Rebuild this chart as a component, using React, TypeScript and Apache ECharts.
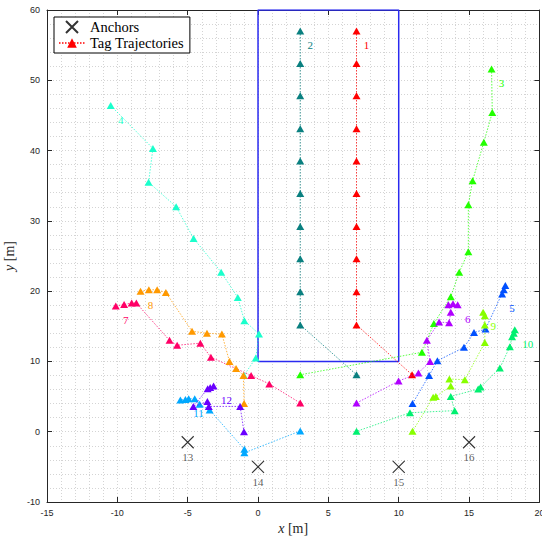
import { useEffect, useRef } from "react";
import * as echarts from "echarts";

// Tag trajectories: [x, y] in metres, first point carries the tag number
const tag1 = [[7, 57.0], [7, 52.4], [7, 47.8], [7, 43.1], [7, 38.5], [7, 33.9], [7, 29.2], [7, 24.6], [7, 19.9], [7, 15.2], [10.95, 8.1]];
const tag2 = [[3, 57.0], [3, 52.4], [3, 47.8], [3, 43.1], [3, 38.5], [3, 33.9], [3, 29.2], [3, 24.6], [3, 19.9], [3, 15.2], [7, 8.1]];
const tag3 = [[16.6, 51.6], [16.65, 45.4], [16.05, 41.2], [15.25, 35.7], [14.95, 32.3], [14.95, 25.6], [14.3, 22.7], [13.7, 19.2], [12.5, 15.4], [11.65, 11.3], [3, 8.1]];
const tag4 = [[-10.47, 46.4], [-7.47, 40.3], [-7.78, 35.5], [-5.82, 32.0], [-4.58, 27.5], [-2.62, 22.7], [-1.44, 19.1], [-0.97, 15.8], [0.07, 13.9], [-0.16, 10.5], [-1.0, 8.0]];
const tag5 = [[17.35, 19.6], [17.58, 20.8], [17.47, 20.2], [16.17, 14.6], [15.35, 14.1], [14.64, 12.0], [12.75, 10.1], [12.16, 8.0], [10.98, 4.0]];
const tag6 = [[14.19, 18.07], [13.86, 18.2], [13.53, 18.07], [13.7, 17.0], [13.58, 15.5], [12.87, 15.6], [12.0, 13.0], [12.23, 10.0], [11.4, 8.35], [9.99, 7.2], [7, 4.08]];
const tag7 = [[-10.11, 17.9], [-9.52, 18.1], [-8.98, 18.3], [-8.65, 18.3], [-6.29, 13.0], [-5.75, 12.3], [-4.1, 12.6], [-3.35, 10.6], [-0.49, 8.0], [0.8, 6.8], [3, 4.08]];
const tag8 = [[-8.35, 20.0], [-7.76, 20.2], [-7.17, 20.2], [-6.55, 19.8], [-4.69, 14.3], [-3.63, 14.0], [-2.57, 13.9], [-2.03, 10.0], [-1.56, 9.0], [-1.04, 8.0], [-0.99, 4.0]];
const tag9 = [[16.0, 17.0], [16.12, 16.5], [16.12, 15.2], [16.12, 12.7], [14.7, 7.4], [13.6, 7.5], [13.7, 6.5], [12.64, 5.0], [12.45, 4.9], [10.98, 0.05]];
const tag10 = [[18.25, 14.5], [18.18, 14.0], [18.06, 13.5], [17.9, 12.1], [17.19, 9.06], [15.82, 6.36], [15.65, 6.07], [13.7, 5.02], [13.98, 3.0], [10.8, 2.7], [7, 0.05]];
const tag11 = [[-5.16, 4.6], [-5.52, 4.5], [-4.93, 4.7], [-4.5, 4.7], [-4.15, 3.9], [-3.44, 3.1], [-0.97, -2.5], [-0.97, -3.0], [3, 0.1]];
const tag12 = [[-3.16, 6.5], [-3.4, 6.3], [-3.58, 6.1], [-4.6, 3.6], [-3.6, 4.3], [-3.5, 3.6], [-1.27, 3.6], [-1.0, 0.0]];

const tags = [tag1, tag2, tag3, tag4, tag5, tag6, tag7, tag8, tag9, tag10, tag11, tag12];
const tagLabels = ["1", "2", "3", "4", "5", "6", "7", "8", "9", "10", "11", "12"];
const tagColors = [
  "#ff0000", "#0a8080", "#22ff00", "#1affcc", "#0050ff", "#b000ff",
  "#ff0066", "#ff9900", "#88ff00", "#00f070", "#00a8ff", "#6a00ff",
];

// Anchor positions
const anchorX = [-5, 0, 10, 15];
const anchorY = [-1.5, -5, -5, -1.5];
const anchorLabels = ["13", "14", "15", "16"];

// Boundary of the straight-corridor zone
const zoneX = [0, 0, 10, 10, 0];
const zoneY = [10, 60, 60, 10, 10];

const SERIF = "'Liberation Serif', 'DejaVu Serif', serif";
const SANS = "'Liberation Sans', Arial, sans-serif";
const GRID_COLOR = "#d4d4d4";
const AXIS_COLOR = "#262626";

export default function App() {
  const ref = useRef<HTMLDivElement>(null);

  useEffect(() => {
    if (!ref.current) return;
    const chart = echarts.init(ref.current, undefined, { renderer: "svg" });

    const tagSeries = tags.map((pts, i) => ({
      type: "line",
      name: i === 0 ? "Tag Trajectories" : "Tag " + tagLabels[i],
      xAxisIndex: 0,
      yAxisIndex: 0,
      data: pts.map((p, j) =>
        j === 0
          ? {
              value: p,
              label: {
                show: true,
                formatter: tagLabels[i],
                position: "inside",
                offset: [tagLabels[i].length > 1 ? 13 : 10, 14],
                color: tagColors[i],
                fontFamily: SERIF,
                fontSize: 11,
              },
            }
          : p
      ),
      symbol: "triangle",
      symbolSize: [8, 7],
      showSymbol: true,
      itemStyle: { color: tagColors[i] },
      lineStyle: { color: tagColors[i], width: 1, type: [1.5, 1.5], opacity: 0.75 },
      z: 3 + i,
    }));

    chart.setOption({
      animation: false,
      backgroundColor: "#ffffff",
      grid: { left: 47, right: 2.6, top: 10, bottom: 34, containLabel: false, outerBoundsMode: "none" },
      legend: {
        data: ["Anchors", "Tag Trajectories"],
        orient: "vertical",
        left: 54,
        top: 17,
        padding: [2, 6, 2, 4],
        itemGap: 0,
        itemWidth: 26,
        itemHeight: 12,
        backgroundColor: "#ffffff",
        borderColor: "#000000",
        borderWidth: 1,
        borderRadius: 0,
        selectedMode: false,
        textStyle: { fontFamily: SERIF, fontSize: 14.5, color: "#000", lineHeight: 16 },
      },
      xAxis: [
        {
          type: "value",
          min: -15,
          max: 20,
          interval: 5,
          position: "bottom",
          name: "{i|x} [m]",
          nameLocation: "middle",
          nameGap: 15,
          nameTextStyle: {
            fontFamily: SERIF,
            fontSize: 14,
            color: "#262626",
            rich: { i: { fontFamily: SERIF, fontSize: 14, fontStyle: "italic", color: "#262626" } },
          },
          axisLine: { show: true, onZero: false, lineStyle: { color: AXIS_COLOR, width: 1 } },
          axisTick: { show: true, inside: true, length: 5, lineStyle: { color: AXIS_COLOR } },
          axisLabel: { fontFamily: SANS, fontSize: 9, color: "#262626", margin: 6 },
          splitLine: { show: true, lineStyle: { color: GRID_COLOR, type: [1, 2], width: 1 } },
          minorTick: { show: false, splitNumber: 5 },
          minorSplitLine: { show: true, lineStyle: { color: GRID_COLOR, type: [1, 2], width: 1 } },
        },
        {
          type: "value",
          min: -15,
          max: 20,
          interval: 5,
          position: "top",
          axisLine: { show: true, onZero: false, lineStyle: { color: AXIS_COLOR, width: 1 } },
          axisTick: { show: true, inside: true, length: 5, lineStyle: { color: AXIS_COLOR } },
          axisLabel: { show: false },
          splitLine: { show: false },
        },
      ],
      yAxis: [
        {
          type: "value",
          min: -10,
          max: 60,
          interval: 10,
          position: "left",
          name: "{i|y} [m]",
          nameLocation: "middle",
          nameGap: 24,
          nameTextStyle: {
            fontFamily: SERIF,
            fontSize: 14,
            color: "#262626",
            rich: { i: { fontFamily: SERIF, fontSize: 14, fontStyle: "italic", color: "#262626" } },
          },
          axisLine: { show: true, onZero: false, lineStyle: { color: AXIS_COLOR, width: 1 } },
          axisTick: { show: true, inside: true, length: 5, lineStyle: { color: AXIS_COLOR } },
          axisLabel: { fontFamily: SANS, fontSize: 9, color: "#262626", margin: 7 },
          splitLine: { show: true, lineStyle: { color: GRID_COLOR, type: [1, 2], width: 1 } },
          minorTick: { show: false, splitNumber: 5 },
          minorSplitLine: { show: true, lineStyle: { color: GRID_COLOR, type: [1, 2], width: 1 } },
        },
        {
          type: "value",
          min: -10,
          max: 60,
          interval: 10,
          position: "right",
          axisLine: { show: true, onZero: false, lineStyle: { color: AXIS_COLOR, width: 1 } },
          axisTick: { show: true, inside: true, length: 5, lineStyle: { color: AXIS_COLOR } },
          axisLabel: { show: false },
          splitLine: { show: false },
        },
      ],
      series: [
        {
          type: "line",
          name: "zone",
          data: zoneX.map((x, i) => [x, zoneY[i]]),
          showSymbol: false,
          symbol: "none",
          lineStyle: { color: "#2a2af0", width: 1.5 },
          z: 2,
          silent: true,
        },
        {
          type: "scatter",
          name: "Anchors",
          data: anchorX.map((x, i) => ({
            value: [x, anchorY[i]],
            label: {
              show: true,
              formatter: anchorLabels[i],
              position: "inside",
              offset: [0, 15],
              color: "#333333",
              fontFamily: SERIF,
              fontSize: 11,
            },
          })),
          symbol: "path://M0,0L12,12M12,0L0,12",
          symbolSize: 12,
          itemStyle: { color: "rgba(0,0,0,0)", borderColor: "#000000", borderWidth: 1.1 },
          z: 20,
        },
        ...tagSeries,
      ],
    });

    return () => chart.dispose();
  }, []);

  return (
    <div
      ref={ref}
      style={{ position: "fixed", left: 0, top: 0, width: 542, height: 536, background: "#ffffff" }}
    />
  );
}
